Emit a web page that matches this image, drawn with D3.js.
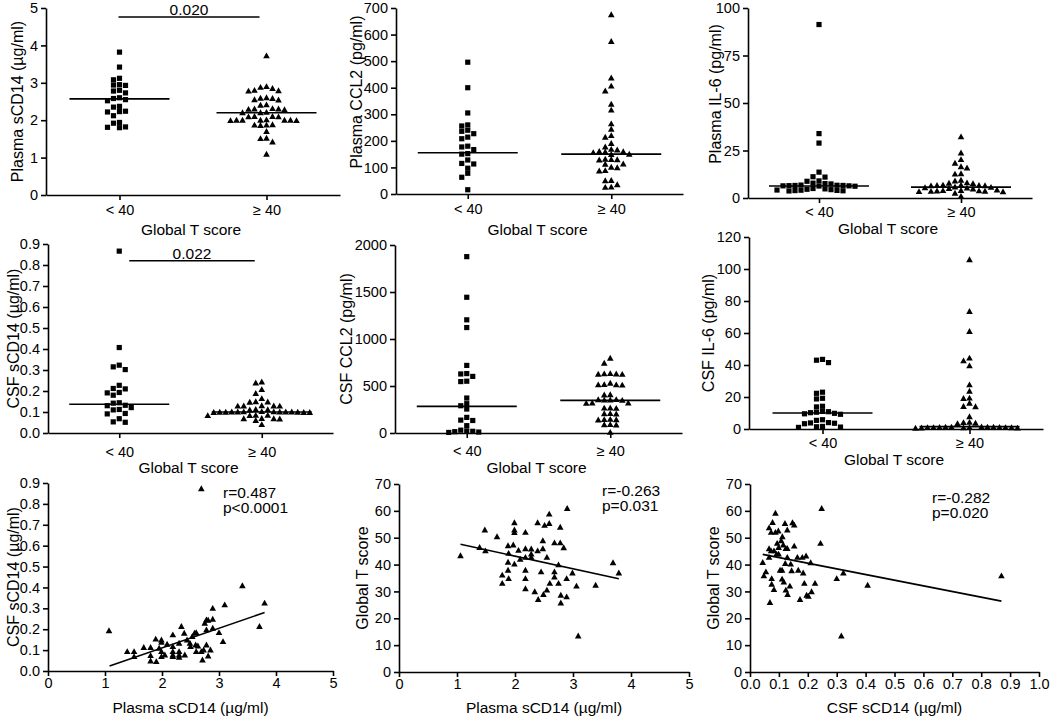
<!DOCTYPE html>
<html><head><meta charset="utf-8">
<script src="https://cdn.jsdelivr.net/npm/d3@7"></script>
<style>
body{margin:0;background:#fff}
svg{display:block}
text{font-family:"Liberation Sans",Arial,Helvetica,sans-serif;fill:#000}
</style>
</head><body>
<svg id="c" width="1050" height="718"></svg>
<script>
// ---------- categories / ticks ----------
const groups = ["< 40", "\u2265 40"];
const xTitleGroups = "Global T score";

// ---------- Row 1 ----------
const plasmaSCD14Low = [3.82,3.42,3.12,3.08,2.95,2.94,2.93,2.80,2.78,2.73,2.60,2.58,2.55,2.52,2.37,2.35,2.24,2.23,2.22,2.12,1.94,1.92,1.82,1.81,1.80];
const plasmaSCD14High = [3.72,2.90,2.88,2.85,2.80,2.79,2.78,2.60,2.59,2.58,2.55,2.54,2.41,2.40,2.31,2.30,2.30,2.29,2.28,2.21,2.20,2.20,2.10,2.10,2.09,2.09,2.01,2.00,2.00,2.00,2.00,2.00,1.99,1.99,1.88,1.87,1.87,1.86,1.70,1.52,1.51,1.42,1.09];
const plasmaSCD14Medians = [2.57, 2.20];

const plasmaCCL2Low = [496,400,305,260,256,240,236,227,214,208,180,177,167,152,150,128,115,113,97,78,63,16];
const plasmaCCL2High = [675,574,437,406,388,338,316,264,244,220,214,190,177,168,166,160,159,158,156,150,149,131,130,129,128,113,112,101,99,88,87,51,50,35,26,25];
const plasmaCCL2Medians = [155, 150];

const plasmaIL6Low = [91.3,33.9,28.9,13.6,11.2,11.0,9.0,8.8,7.8,7.6,7.4,6.8,6.7,6.6,6.6,6.5,6.4,6.4,6.3,6.2,5.0,4.8,4.6,4.4,4.2,4.1,4.0,3.9,3.8,3.7];
const plasmaIL6High = [32.2,23.7,20.2,18.3,16.5,15.8,12.8,12.6,9.4,9.0,8.0,7.8,7.6,6.8,6.7,6.6,6.6,6.5,6.4,5.8,5.6,5.4,5.2,5.0,4.8,4.2,4.0,3.9,3.8,3.7,3.6,3.5,3.4,3.3,2.5,0.9];
const plasmaIL6Medians = [6.3, 5.7];

// ---------- Row 2 ----------
const csfSCD14Low = [0.866,0.407,0.323,0.315,0.302,0.227,0.212,0.210,0.193,0.191,0.180,0.144,0.142,0.132,0.130,0.121,0.112,0.110,0.093,0.091,0.068,0.053,0.051];
const csfSCD14High = [0.243,0.238,0.207,0.188,0.164,0.149,0.148,0.147,0.130,0.129,0.129,0.128,0.128,0.112,0.111,0.110,0.102,0.101,0.101,0.100,0.100,0.100,0.100,0.100,0.099,0.099,0.099,0.098,0.098,0.098,0.084,0.084,0.083,0.083,0.069,0.068,0.068,0.067,0.060,0.040];
const csfSCD14Medians = [0.137, 0.100];

const csfCCL2Low = [1876,1444,1204,1122,719,632,628,602,551,547,372,312,290,255,166,137,133,78,30,22,18,14,10,6];
const csfCCL2High = [796,743,632,630,628,626,624,530,515,513,512,510,407,405,356,354,352,350,348,320,318,316,267,265,263,207,205,203,145,143,141,139,90,88,86,7];
const csfCCL2Medians = [283, 347];

const csfIL6Low = [43.5,43.0,41.5,23.0,22.3,19.2,18.8,14.2,13.8,11.0,10.8,10.5,10.2,9.8,9.5,9.2,5.8,5.4,4.0,3.8,3.6,3.3,1.6,1.4,1.2,1.0];
const csfIL6High = [105.8,73.5,61.0,44.3,42.6,39.5,27.6,23.6,19.3,19.1,16.1,14.1,13.9,7.7,4.2,4.0,3.6,3.4,1.3,1.2,1.2,1.1,1.1,1.0,1.0,1.0,0.9,0.9,0.9,0.8,0.8,0.7,0.6,0.5];
const csfIL6Medians = [10.0, 1.5];

// significance annotations
const sigLabels = ["0.020", "0.022"];
const sigLevels = [4.76, 0.82];

// ---------- Row 3 (correlations) ----------
const r7Plasma = [2.69,1.07,1.39,1.51,1.51,1.68,1.80,1.80,1.80,1.89,1.90,1.95,1.99,1.99,1.99,1.99,2.05,2.09,2.19,2.19,2.19,2.19,2.19,2.30,2.30,2.30,2.30,2.34,2.39,2.40,2.44,2.49,2.50,2.53,2.57,2.60,2.59,2.63,2.60,2.69,2.71,2.73,2.75,2.78,2.81,2.78,2.78,2.81,2.85,2.89,2.89,2.89,3.00,3.07,3.10,3.41,3.71,3.80];
const r7Csf    = [0.873,0.193,0.093,0.093,0.069,0.113,0.113,0.074,0.048,0.153,0.045,0.109,0.149,0.138,0.093,0.069,0.077,0.128,0.173,0.117,0.093,0.077,0.069,0.133,0.093,0.077,0.066,0.213,0.181,0.077,0.149,0.133,0.117,0.165,0.181,0.184,0.125,0.120,0.093,0.093,0.053,0.101,0.229,0.245,0.243,0.197,0.125,0.072,0.101,0.300,0.248,0.205,0.184,0.141,0.317,0.408,0.213,0.325];
const fit7X = [1.08, 3.80];
const fit7Coef = [-0.0776, 0.0941]; // intercept, slope
const stats7 = ["r=0.487", "p<0.0001"];

const r8Plasma = [1.06,1.39,1.48,1.49,1.69,1.78,1.78,1.88,1.89,1.88,1.88,1.89,1.97,1.99,1.99,1.99,1.99,2.06,2.09,2.18,2.18,2.18,2.18,2.18,2.18,2.28,2.28,2.28,2.34,2.39,2.39,2.40,2.45,2.48,2.48,2.49,2.51,2.55,2.55,2.59,2.59,2.60,2.68,2.68,2.68,2.75,2.75,2.78,2.78,2.79,2.79,2.84,2.89,2.89,2.90,2.99,3.06,3.09,3.39,3.69,3.79];
const r8TScore = [43.3,46.4,52.9,45.1,50.4,36.1,33.0,47.0,44.2,40.9,37.9,34.8,47.3,55.6,52.9,51.9,40.2,45.3,42.0,52.0,45.9,42.7,37.9,34.8,31.0,45.8,43.9,42.7,29.9,55.6,45.1,27.0,37.3,48.9,45.9,28.9,54.6,42.7,30.5,58.8,55.3,33.0,48.1,37.3,35.4,39.9,33.0,48.1,53.9,28.6,25.7,46.3,34.8,28.0,60.9,36.9,32.0,13.4,32.3,40.7,36.9];
const fit8X = [1.06, 3.79];
const fit8Coef = [52.6, -4.725];
const stats8 = ["r=-0.263", "p=0.031"];

const r9Csf = [0.044,0.048,0.055,0.066,0.066,0.066,0.069,0.073,0.073,0.075,0.075,0.078,0.083,0.083,0.088,0.088,0.092,0.094,0.098,0.099,0.099,0.104,0.108,0.111,0.111,0.112,0.115,0.117,0.121,0.122,0.124,0.124,0.129,0.129,0.129,0.130,0.138,0.141,0.144,0.147,0.153,0.153,0.164,0.167,0.173,0.181,0.194,0.184,0.188,0.196,0.202,0.210,0.213,0.225,0.244,0.248,0.300,0.316,0.323,0.407,0.870];
const r9TScore = [40.8,35.8,37.3,53.7,45.9,42.7,25.9,52.0,45.1,34.8,32.7,55.7,30.7,45.1,59.1,52.0,43.9,47.9,52.5,46.4,43.9,37.9,48.9,34.6,37.9,50.4,47.3,33.5,55.3,40.4,46.0,30.5,46.0,42.7,52.9,28.9,32.0,40.2,37.7,55.6,54.7,46.9,42.7,37.9,27.0,42.7,43.2,36.9,33.0,28.6,28.2,40.7,29.9,33.0,47.9,60.9,34.8,13.4,36.9,32.3,35.8];
const fit9X = [0.044, 0.870];
const fit9Coef = [44.73, -21.07];
const stats9 = ["r=-0.282", "p=0.020"];

// ---------- drawing ----------
const svg = d3.select("#c");
const FONT = '"Liberation Sans",Arial,Helvetica,sans-serif';
const TICK_FS = 14.5, TITLE_FS = 15.5, ANN_FS = 15.5, AXW = 1.6;

function styleAxis(g){
  g.attr("font-size", TICK_FS).attr("font-family", FONT);
  g.selectAll("path,line").attr("stroke","#000").attr("stroke-width",AXW);
  g.selectAll("text").attr("fill","#000");
}

const squarePath = "M-2.6,-2.6H2.6V2.6H-2.6Z";
const trianglePath = "M0,-3.4L3.3,2.5H-3.3Z";

// greedy beeswarm: each point takes the nearest free horizontal slot
function swarm(values, y, cx, spacing, rowH){
  const pts = values.map(v => ({v, y: y(v)})).sort((a,b) => a.y - b.y);
  const half = spacing / 2;
  const cands = [0];
  for (let k = 1; k < 60; k++){ cands.push(-k*half, k*half); }
  const placed = [];
  pts.forEach(p => {
    for (const off of cands){
      const x = cx + off;
      const hit = placed.some(q => Math.abs(q.x - x) < spacing*0.95 && Math.abs(q.y - p.y) < rowH);
      if (!hit){ p.x = x; placed.push(p); break; }
    }
  });
  return pts;
}

function yLabel(text, cx, cy){
  svg.append("text").attr("transform", `translate(${cx},${cy}) rotate(-90)`)
    .attr("text-anchor","middle").attr("dy","0.35em")
    .attr("font-size", 16).text(text);
}

function dotPanel(o){
  const y = d3.scaleLinear().domain([0, o.ymax]).range([o.bottom, o.top]);
  const x = d3.scalePoint().domain(groups).range([o.left, o.right]).padding(0.5);
  const ya = svg.append("g").attr("transform", `translate(${o.left},0)`)
    .call(d3.axisLeft(y).tickValues(o.yticks).tickFormat(o.fmt).tickSize(5).tickSizeOuter(0).tickPadding(3));
  styleAxis(ya);
  const xa = svg.append("g").attr("transform", `translate(0,${o.bottom})`)
    .call(d3.axisBottom(x).tickSize(5).tickSizeOuter(0).tickPadding(o.xpad));
  styleAxis(xa);
  yLabel(o.ylabel, o.ylabX, o.ylabY !== undefined ? o.ylabY : (o.top + o.bottom)/2);
  svg.append("text").attr("x", (o.left + o.right)/2 - 2).attr("y", o.xtitleY)
    .attr("text-anchor","middle").attr("font-size", TITLE_FS).text(xTitleGroups);

  const sets = [o.low, o.high];
  const paths = [squarePath, trianglePath];
  sets.forEach((vals, gi) => {
    const cx = x(groups[gi]);
    const pts = swarm(vals, y, cx, 6, 5);
    svg.append("g").selectAll("path").data(pts).join("path")
      .attr("d", paths[gi]).attr("transform", d => `translate(${d.x},${d.y})`).attr("fill","#000");
    svg.append("line").attr("x1", cx - 50).attr("x2", cx + 50)
      .attr("y1", y(o.medians[gi])).attr("y2", y(o.medians[gi]))
      .attr("stroke","#000").attr("stroke-width",1.6);
  });
  if (o.sig){
    const sy = y(o.sig.level);
    const x1 = x(groups[0]) + o.sig.dx0, x2 = x(groups[1]) - 7;
    svg.append("line").attr("x1", x1).attr("x2", x2).attr("y1", sy).attr("y2", sy)
      .attr("stroke","#000").attr("stroke-width",1.6);
    svg.append("text").attr("x", (x1 + x2)/2).attr("y", sy - 1.5)
      .attr("text-anchor","middle").attr("font-size", ANN_FS).text(o.sig.label);
  }
}

function scatterPanel(o){
  const x = d3.scaleLinear().domain(o.xdom).range([o.left, o.right]);
  const y = d3.scaleLinear().domain([0, o.ymax]).range([o.bottom, o.top]);
  const ya = svg.append("g").attr("transform", `translate(${o.left},0)`)
    .call(d3.axisLeft(y).tickValues(o.yticks).tickFormat(o.yfmt).tickSize(5).tickSizeOuter(0).tickPadding(3));
  styleAxis(ya);
  const xa = svg.append("g").attr("transform", `translate(0,${o.bottom})`)
    .call(d3.axisBottom(x).tickValues(o.xticks).tickFormat(o.xfmt).tickSize(5).tickSizeOuter(0).tickPadding(2));
  styleAxis(xa);
  yLabel(o.ylabel, o.ylabX, (o.top + o.bottom)/2);
  svg.append("text").attr("x", (o.left + o.right)/2).attr("y", o.xtitleY)
    .attr("text-anchor","middle").attr("font-size", TITLE_FS).text(o.xlabel);
  const pts = o.xs.map((v,i) => [v, o.ys[i]]);
  svg.append("g").selectAll("path").data(pts).join("path")
    .attr("d", trianglePath).attr("transform", d => `translate(${x(d[0])},${y(d[1])})`).attr("fill","#000");
  const f = v => o.coef[0] + o.coef[1]*v;
  svg.append("line").attr("x1", x(o.fitX[0])).attr("x2", x(o.fitX[1]))
    .attr("y1", y(f(o.fitX[0]))).attr("y2", y(f(o.fitX[1])))
    .attr("stroke","#000").attr("stroke-width",1.6);
  o.stats.forEach((s,i) => svg.append("text").attr("x", o.annX).attr("y", o.annY + i*15)
    .attr("font-size", ANN_FS).text(s));
}

const fInt = d3.format("d"), f1 = d3.format(".1f");

dotPanel({left:46,right:340,top:8,bottom:195,ymax:5,yticks:d3.range(0,6,1),fmt:fInt,
  ylabel:"Plasma sCD14 (\u00b5g/ml)",ylabX:17,xpad:5,xtitleY:235,
  low:plasmaSCD14Low,high:plasmaSCD14High,medians:plasmaSCD14Medians,
  sig:{level:sigLevels[0],label:sigLabels[0],dx0:-1}});
dotPanel({left:396,right:683,top:8,bottom:194,ymax:700,yticks:d3.range(0,701,100),fmt:fInt,
  ylabel:"Plasma CCL2 (pg/ml)",ylabX:356,ylabY:92,xpad:5,xtitleY:235,
  low:plasmaCCL2Low,high:plasmaCCL2High,medians:plasmaCCL2Medians});
dotPanel({left:748,right:1032,top:8,bottom:198,ymax:100,yticks:[0,25,50,75,100],fmt:fInt,
  ylabel:"Plasma IL-6 (pg/ml)",ylabX:715,ylabY:94,xpad:4,xtitleY:234,
  low:plasmaIL6Low,high:plasmaIL6High,medians:plasmaIL6Medians});

dotPanel({left:48,right:333,top:244,bottom:433,ymax:0.9,yticks:d3.range(0,0.91,0.1),fmt:f1,
  ylabel:"CSF sCD14 (\u00b5g/ml)",ylabX:13,xpad:9,xtitleY:473,
  low:csfSCD14Low,high:csfSCD14High,medians:csfSCD14Medians,
  sig:{level:sigLevels[1],label:sigLabels[1],dx0:10}});
dotPanel({left:395,right:682,top:245,bottom:433,ymax:2000,yticks:d3.range(0,2001,500),fmt:fInt,
  ylabel:"CSF CCL2 (pg/ml)",ylabX:346,xpad:8,xtitleY:473,
  low:csfCCL2Low,high:csfCCL2High,medians:csfCCL2Medians});
dotPanel({left:749,right:1043,top:237,bottom:429,ymax:120,yticks:d3.range(0,121,20),fmt:fInt,
  ylabel:"CSF IL-6 (pg/ml)",ylabX:708,xpad:4,xtitleY:465,
  low:csfIL6Low,high:csfIL6High,medians:csfIL6Medians});

scatterPanel({left:48,right:333,top:483,bottom:671,xdom:[0,5],xticks:d3.range(0,6,1),xfmt:fInt,
  ymax:0.9,yticks:d3.range(0,0.91,0.1),yfmt:f1,ylabel:"CSF sCD14 (\u00b5g/ml)",ylabX:13,
  xlabel:"Plasma sCD14 (\u00b5g/ml)",xtitleY:713,xs:r7Plasma,ys:r7Csf,fitX:fit7X,coef:fit7Coef,
  stats:stats7,annX:223,annY:498});
scatterPanel({left:399,right:689,top:484,bottom:672,xdom:[0,5],xticks:d3.range(0,6,1),xfmt:fInt,
  ymax:70,yticks:d3.range(0,71,10),yfmt:fInt,ylabel:"Global T score",ylabX:362,
  xlabel:"Plasma sCD14 (\u00b5g/ml)",xtitleY:713,xs:r8Plasma,ys:r8TScore,fitX:fit8X,coef:fit8Coef,
  stats:stats8,annX:602,annY:496});
scatterPanel({left:750,right:1039,top:484,bottom:672,xdom:[0,1],xticks:d3.range(0,1.01,0.1),xfmt:f1,
  ymax:70,yticks:d3.range(0,71,10),yfmt:fInt,ylabel:"Global T score",ylabX:713,
  xlabel:"CSF sCD14 (\u00b5g/ml)",xtitleY:713,xs:r9Csf,ys:r9TScore,fitX:fit9X,coef:fit9Coef,
  stats:stats9,annX:932,annY:503});
</script>
</body></html>
